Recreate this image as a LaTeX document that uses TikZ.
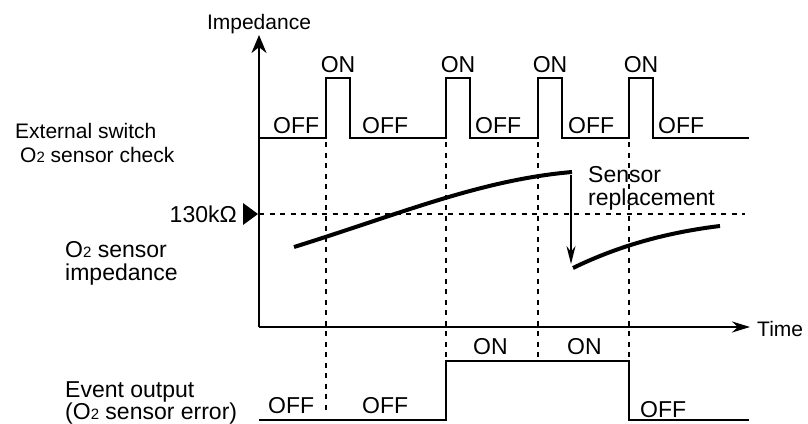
\documentclass[tikz,border=0pt]{standalone}
\usepackage{fontspec}
\setmainfont{Liberation Sans}
\usetikzlibrary{arrows.meta}
\newcommand{\Otwo}{O{\fontsize{15}{15}\selectfont 2}}

\begin{document}
\begin{tikzpicture}[x=1pt,y=-1pt,
    lbl/.style={font=\fontsize{23}{26}\selectfont,inner sep=0pt},
    note/.style={font=\fontsize{21}{24}\selectfont,inner sep=0pt},
    wave/.style={line width=2pt},
    axis/.style={line width=2.4pt},
    guide/.style={line width=2pt,dash pattern=on 5pt off 5.5pt},
    trend/.style={line width=4pt}]
  \path[fill=white,use as bounding box] (0,0) rectangle (808,423);
  % axes
  \coordinate (org) at (259,327);
  \coordinate (ytip) at (259,35);
  \coordinate (xtip) at (750,327);
  \draw[axis,-{Stealth[length=18pt,width=15pt]}] (org)--(ytip);
  \draw[axis,-{Stealth[length=18pt,width=11pt]}] (org)--(xtip);
  \node[note,anchor=base] (imp) at (259,29.5) {Impedance};
  \node[note,anchor=base west] (time) at (757,336) {Time};
  % switch pulses
  \draw[wave] (259,138) \foreach \p in {326,446,538,629}
    {--(\p,138)--(\p,78)--(\p+23.5,78)--(\p+23.5,138)} --(749,138);
  \foreach \p [count=\i] in {326,446,538,629}
    \node[lbl,anchor=base] (on\i) at (\p+12,72) {ON};
  \foreach \x [count=\i] in {273,362,475,568,658}
    \node[lbl,anchor=base west] (off\i) at (\x,133) {OFF};
  \node[note,anchor=base west] (swA) at (15,138) {External switch};
  \node[note,anchor=base west] (swB) at (20,162) {\Otwo\ sensor check};
  % guide lines
  \draw[guide] (326,142)--(326,413);
  \foreach \p in {446,538,629}
    \draw[guide] (\p,142)--(\p,359);
  \draw[guide] (259,214)--(745,214);
  \fill (243,203)--(258,214)--(243,225)--cycle;
  \node[lbl,anchor=base east] (lim) at (237,222) {130kΩ};
  % impedance
  \node[lbl,anchor=base west] (zA) at (65,257) {\Otwo\ sensor};
  \node[lbl,anchor=base west] (zB) at (65,280) {impedance};
  \draw[trend] (294,247) .. controls (400,214) and (480,180) .. (572,172);
  \draw[trend] (573,268) .. controls (620,245) and (670,232) .. (720,226);
  \draw[line width=1.8pt,-{Stealth[length=18pt,width=9pt]}] (571,175)--(571,264);
  \node[lbl,anchor=base west] (repA) at (588,182) {Sensor};
  \node[lbl,anchor=base west] (repB) at (588,205) {replacement};
  % event output
  \draw[wave] (259,420)--(446,420)--(446,361)--(629,361)--(629,420)--(749,420);
  \node[lbl,anchor=base west] (evOn1) at (473,354) {ON};
  \node[lbl,anchor=base west] (evOn2) at (567,354) {ON};
  \node[lbl,anchor=base west] (evOff1) at (268,413) {OFF};
  \node[lbl,anchor=base west] (evOff2) at (362,413) {OFF};
  \node[lbl,anchor=base west] (evOff3) at (640,417) {OFF};
  \node[lbl,anchor=base west] (evA) at (65,397) {Event output};
  \node[lbl,anchor=base west] (evB) at (65,419) {(\Otwo\ sensor error)};
\end{tikzpicture}
\end{document}
